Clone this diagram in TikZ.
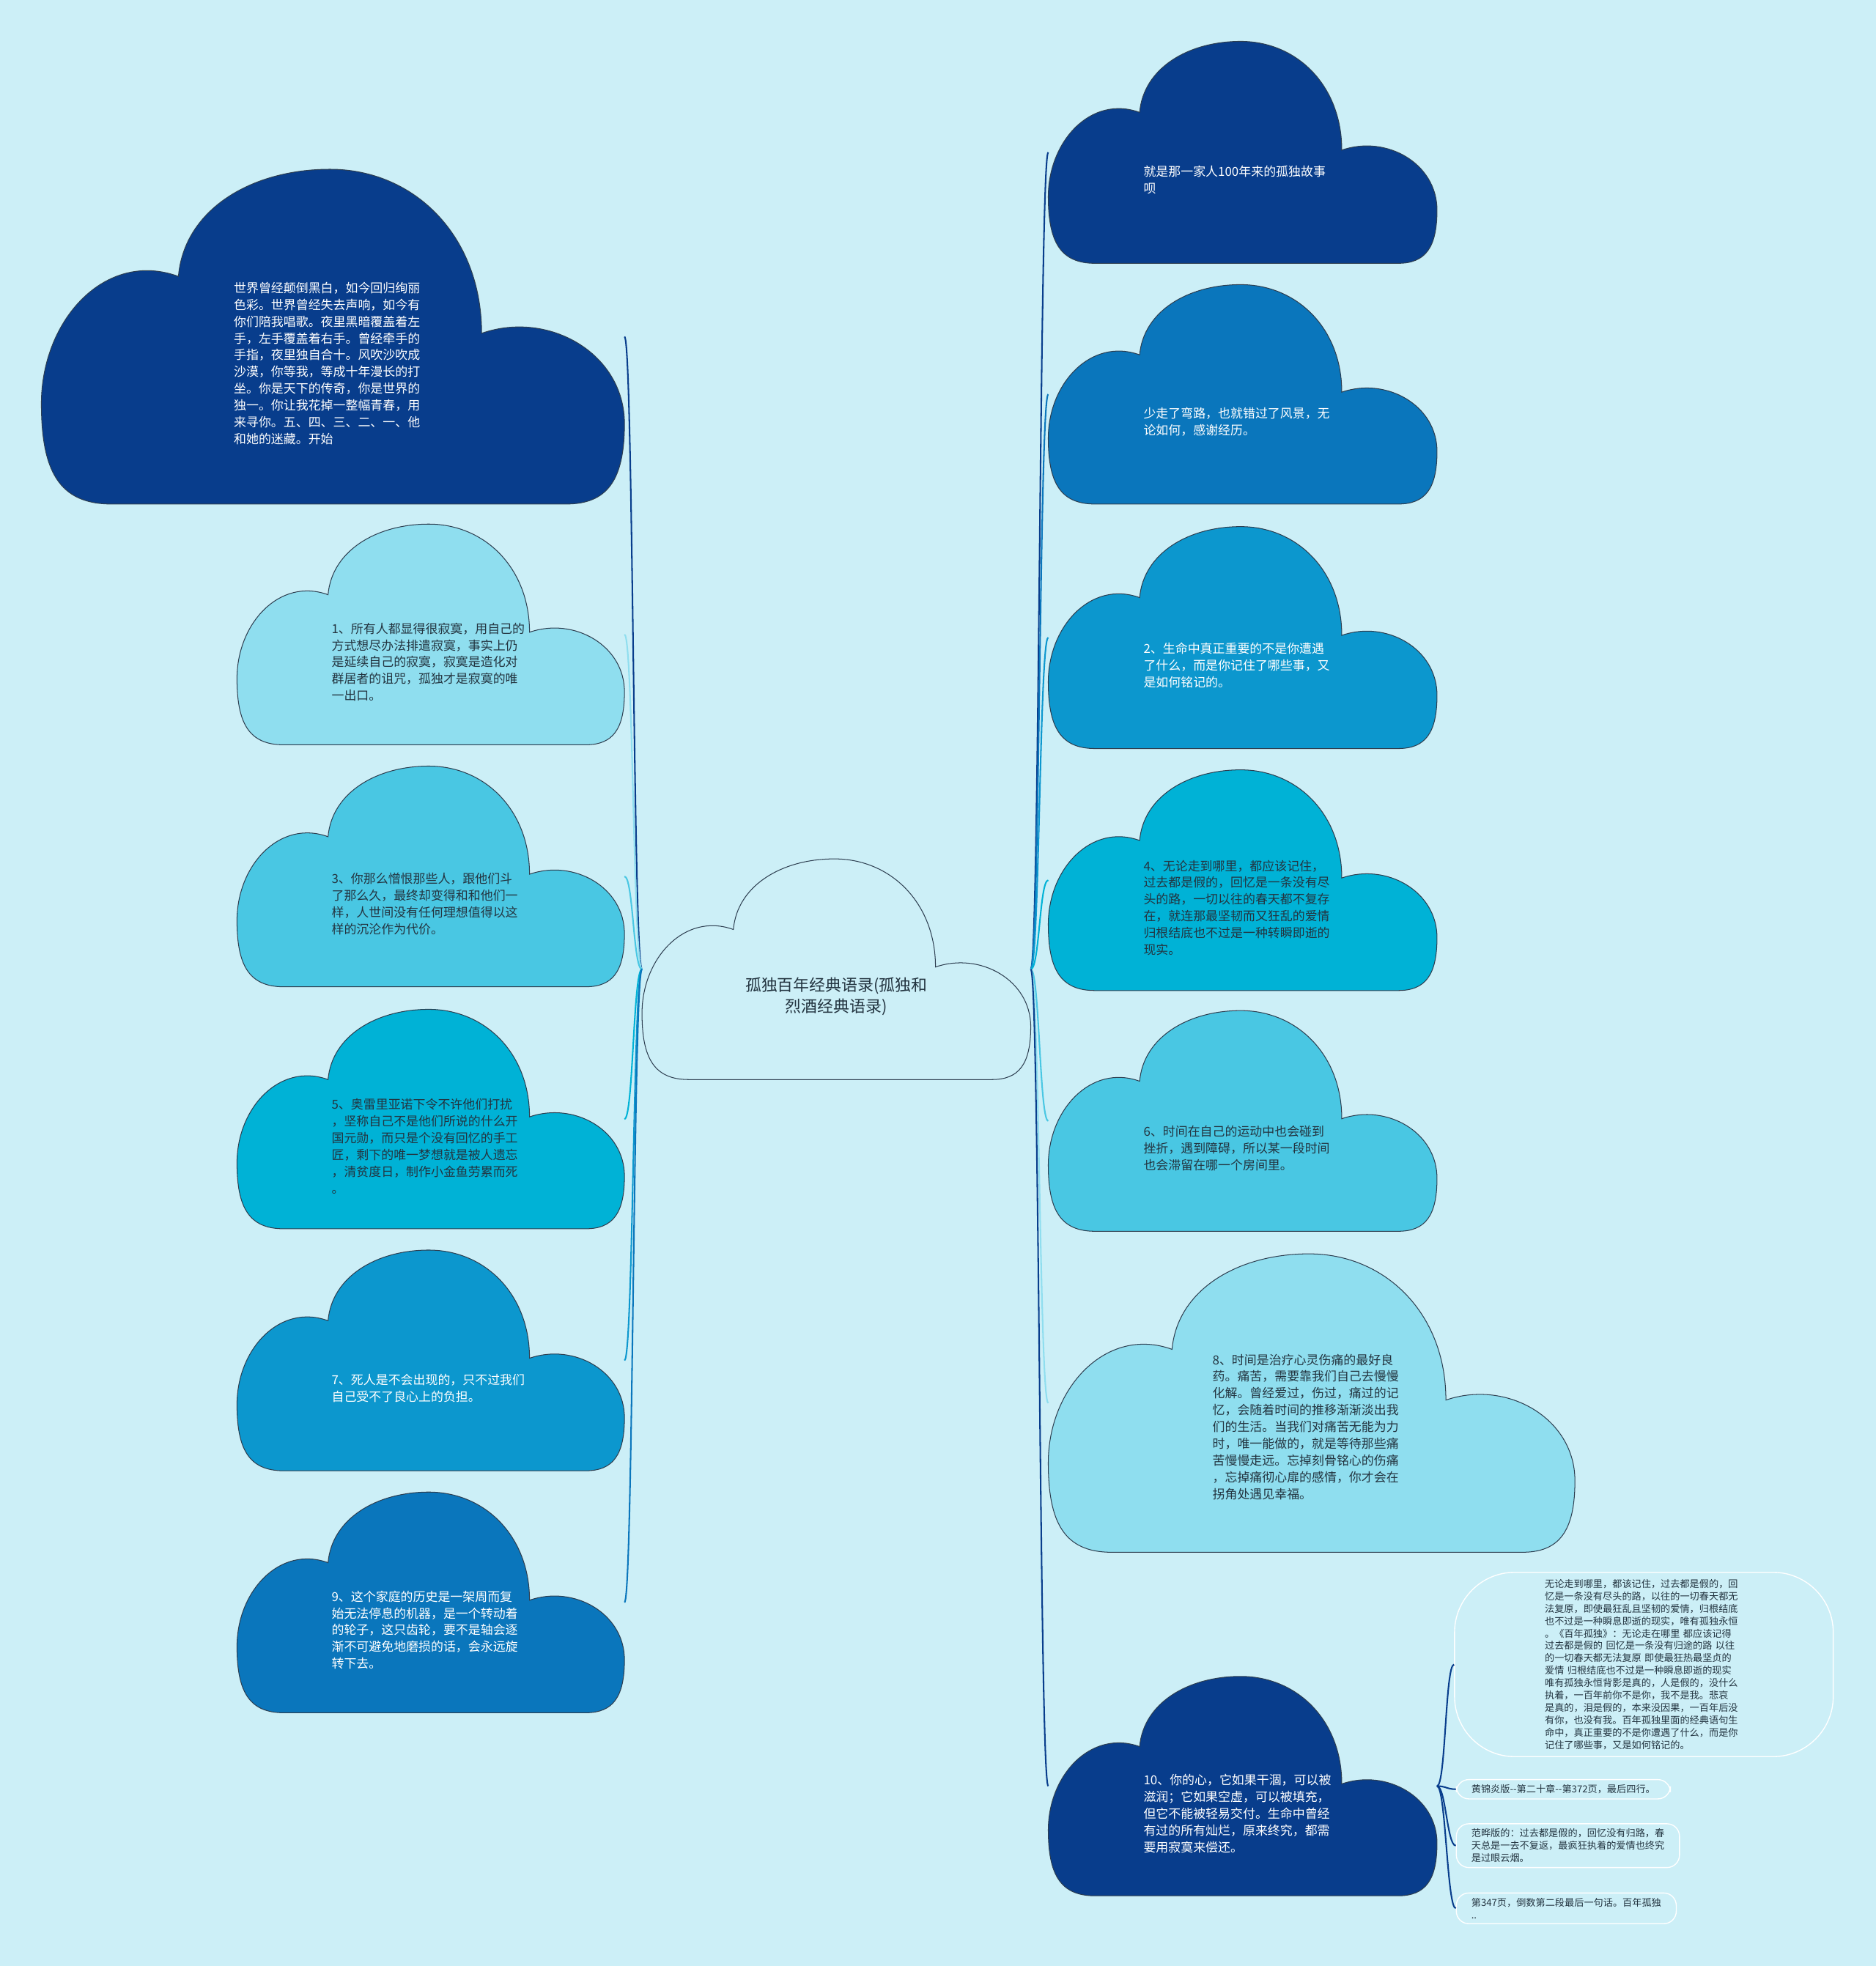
\documentclass[tikz,border=0pt]{standalone}
\usepackage{fontspec}
\setmainfont{Noto Sans CJK SC}
\usetikzlibrary{positioning}

\definecolor{bg}{RGB}{204,239,247}
\definecolor{ink}{RGB}{35,52,64}
\definecolor{edge}{RGB}{45,62,80}
\definecolor{navy}{RGB}{8,61,140}
\definecolor{blueb}{RGB}{10,118,188}
\definecolor{bluec}{RGB}{12,151,206}
\definecolor{blued}{RGB}{0,178,214}
\definecolor{bluee}{RGB}{73,199,227}
\definecolor{bluef}{RGB}{143,222,239}

% cloud: name, fill, text style, x, y, width, height, text
\newcommand{\skycloud}[8]{%
  \path[cloudline, fill=#2]
    ({#4+0.12*#6},{#5+#7})
    .. controls ({#4+0.03*#6},{#5+#7}) and ({#4},{#5+0.9*#7}) .. ({#4},{#5+0.7*#7})
    .. controls ({#4},{#5+0.45*#7}) and ({#4+0.11*#6},{#5+0.24*#7}) .. ({#4+0.235*#6},{#5+0.32*#7})
    .. controls ({#4+0.245*#6},{#5+0.12*#7}) and ({#4+0.36*#6},{#5}) .. ({#4+0.495*#6},{#5})
    .. controls ({#4+0.64*#6},{#5}) and ({#4+0.755*#6},{#5+0.2*#7}) .. ({#4+0.755*#6},{#5+0.49*#7})
    .. controls ({#4+0.87*#6},{#5+0.42*#7}) and ({#4+#6},{#5+0.55*#7}) .. ({#4+#6},{#5+0.76*#7})
    .. controls ({#4+#6},{#5+0.93*#7}) and ({#4+0.97*#6},{#5+#7}) .. ({#4+0.9*#6},{#5+#7})
    -- cycle;
  \coordinate (#1-l) at ({#4},{#5+0.5*#7});
  \coordinate (#1-r) at ({#4+#6},{#5+0.5*#7});
  \node[cloudtext, #3] (#1) at ({#4+0.5*#6},{#5+(#7>200 ? 0.58 : 0.625)*#7}) {#8};
}

\begin{document}
\begin{tikzpicture}[x=1pt, y=-1pt,
  cloudline/.style={draw=edge, line width=0.6pt},
  cloudtext/.style={inner sep=0pt, text width=158pt, align=left, font=\fontsize{9.9}{13.4}\selectfont},
  ondark/.style={text=white},
  onlight/.style={text=ink},
  roottext/.style={text width=200pt, align=center, text=ink, font=\fontsize{12.8}{17}\selectfont},
  link/.style={line width=1.2pt},
  notebox/.style={draw=white, line width=0.8pt, rounded corners=10pt, align=left, inner xsep=12pt, inner ysep=4pt, text=ink, font=\fontsize{7.7}{9.9}\selectfont}]
\useasboundingbox (0,0) rectangle (1496,1568);
\fill[bg] (0,0) rectangle (1496,1568);

% centre
\skycloud{root}{bg}{roottext}{512}{685}{310}{176}{孤独百年经典语录(孤独和\\烈酒经典语录)}
\coordinate (hubl) at (512,773);
\coordinate (hubr) at (822,773);

% left side
\skycloud{tl}{navy}{ondark}{33}{135}{465}{267}{世界曾经颠倒黑白，如今回归绚丽\\色彩。世界曾经失去声响，如今有\\你们陪我唱歌。夜里黑暗覆盖着左\\手，左手覆盖着右手。曾经牵手的\\手指，夜里独自合十。风吹沙吹成\\沙漠，你等我，等成十年漫长的打\\坐。你是天下的传奇，你是世界的\\独一。你让我花掉一整幅青春，用\\来寻你。五、四、三、二、一、他\\和她的迷藏。开始}
\skycloud{one}{bluef}{onlight}{189}{418}{309}{176}{1、所有人都显得很寂寞，用自己的\\方式想尽办法排遣寂寞，事实上仍\\是延续自己的寂寞，寂寞是造化对\\群居者的诅咒，孤独才是寂寞的唯\\一出口。}
\skycloud{three}{bluee}{onlight}{189}{611}{309}{176}{3、你那么憎恨那些人，跟他们斗\\了那么久，最终却变得和和他们一\\样，人世间没有任何理想值得以这\\样的沉沦作为代价。}
\skycloud{five}{blued}{onlight}{189}{805}{309}{175}{5、奥雷里亚诺下令不许他们打扰\\，坚称自己不是他们所说的什么开\\国元勋，而只是个没有回忆的手工\\匠，剩下的唯一梦想就是被人遗忘\\，清贫度日，制作小金鱼劳累而死\\。}
\skycloud{seven}{bluec}{ondark}{189}{997}{309}{176}{7、死人是不会出现的，只不过我们\\自己受不了良心上的负担。}
\skycloud{nine}{blueb}{ondark}{189}{1190}{309}{176}{9、这个家庭的历史是一架周而复\\始无法停息的机器，是一个转动着\\的轮子，这只齿轮，要不是轴会逐\\渐不可避免地磨损的话，会永远旋\\转下去。}

% right side
\skycloud{tr}{navy}{ondark}{836}{33}{310}{177}{就是那一家人100年来的孤独故事\\呗}
\skycloud{road}{blueb}{ondark}{836}{227}{310}{175}{少走了弯路，也就错过了风景，无\\论如何，感谢经历。}
\skycloud{two}{bluec}{ondark}{836}{420}{310}{177}{2、生命中真正重要的不是你遭遇\\了什么，而是你记住了哪些事，又\\是如何铭记的。}
\skycloud{four}{blued}{onlight}{836}{614}{310}{176}{4、无论走到哪里，都应该记住，\\过去都是假的，回忆是一条没有尽\\头的路，一切以往的春天都不复存\\在，就连那最坚韧而又狂乱的爱情\\归根结底也不过是一种转瞬即逝的\\现实。}
\skycloud{six}{bluee}{onlight}{836}{806}{310}{176}{6、时间在自己的运动中也会碰到\\挫折，遇到障碍，所以某一段时间\\也会滞留在哪一个房间里。}
\skycloud{eight}{bluef}{onlight}{836}{1000}{420}{238}{8、时间是治疗心灵伤痛的最好良\\药。痛苦，需要靠我们自己去慢慢\\化解。曾经爱过，伤过，痛过的记\\忆，会随着时间的推移渐渐淡出我\\们的生活。当我们对痛苦无能为力\\时，唯一能做的，就是等待那些痛\\苦慢慢走远。忘掉刻骨铭心的伤痛\\，忘掉痛彻心扉的感情，你才会在\\拐角处遇见幸福。}
\skycloud{ten}{navy}{ondark}{836}{1337}{310}{175}{10、你的心，它如果干涸，可以被\\滋润；它如果空虚，可以被填充，\\但它不能被轻易交付。生命中曾经\\有过的所有灿烂，原来终究，都需\\要用寂寞来偿还。}

% notes of 10
\node[notebox, text width=158pt, minimum width=302pt, minimum height=147pt, rounded corners=48pt] (noteA) at (1311,1327.5) {无论走到哪里，都该记住，过去都是假的，回\\忆是一条没有尽头的路，以往的一切春天都无\\法复原，即使最狂乱且坚韧的爱情，归根结底\\也不过是一种瞬息即逝的现实，唯有孤独永恒\\。《百年孤独》：无论走在哪里 都应该记得\\过去都是假的 回忆是一条没有归途的路 以往\\的一切春天都无法复原 即使最狂热最坚贞的\\爱情 归根结底也不过是一种瞬息即逝的现实\\唯有孤独永恒背影是真的，人是假的，没什么\\执着，一百年前你不是你，我不是我。悲哀\\是真的，泪是假的，本来没因果，一百年后没\\有你，也没有我。百年孤独里面的经典语句生\\命中，真正重要的不是你遭遇了什么，而是你\\记住了哪些事，又是如何铭记的。};
\node[notebox, anchor=west] (noteB) at (1161,1427) {黄锦炎版{-}{-}第二十章{-}{-}第372页，最后四行。};
\node[notebox, anchor=west] (noteC) at (1161,1472) {范晔版的：过去都是假的，回忆没有归路，春\\天总是一去不复返，最疯狂执着的爱情也终究\\是过眼云烟。};
\node[notebox, anchor=west] (noteD) at (1161,1522) {第347页，倒数第二段最后一句话。百年孤独\\..};

% links
\draw[link, navy] (hubl) .. controls +(-7,0) and +(7,0) .. (tl-r);
\draw[link, bluef] (hubl) .. controls +(-7,0) and +(7,0) .. (one-r);
\draw[link, bluee] (hubl) .. controls +(-7,0) and +(7,0) .. (three-r);
\draw[link, blued] (hubl) .. controls +(-7,0) and +(7,0) .. (five-r);
\draw[link, bluec] (hubl) .. controls +(-7,0) and +(7,0) .. (seven-r);
\draw[link, blueb] (hubl) .. controls +(-7,0) and +(7,0) .. (nine-r);
\draw[link, navy] (hubr) .. controls +(7,0) and +(-7,0) .. (tr-l);
\draw[link, blueb] (hubr) .. controls +(7,0) and +(-7,0) .. (road-l);
\draw[link, bluec] (hubr) .. controls +(7,0) and +(-7,0) .. (two-l);
\draw[link, blued] (hubr) .. controls +(7,0) and +(-7,0) .. (four-l);
\draw[link, bluee] (hubr) .. controls +(7,0) and +(-7,0) .. (six-l);
\draw[link, bluef] (hubr) .. controls +(7,0) and +(-7,0) .. (eight-l);
\draw[link, navy] (hubr) .. controls +(7,0) and +(-7,0) .. (ten-l);
\draw[link, navy] (ten-r) .. controls +(7,0) and +(-7,0) .. (noteA.west);
\draw[link, navy] (ten-r) .. controls +(7,0) and +(-7,0) .. (noteB.west);
\draw[link, navy] (ten-r) .. controls +(7,0) and +(-7,0) .. (noteC.west);
\draw[link, navy] (ten-r) .. controls +(7,0) and +(-7,0) .. (noteD.west);
\end{tikzpicture}
\end{document}
